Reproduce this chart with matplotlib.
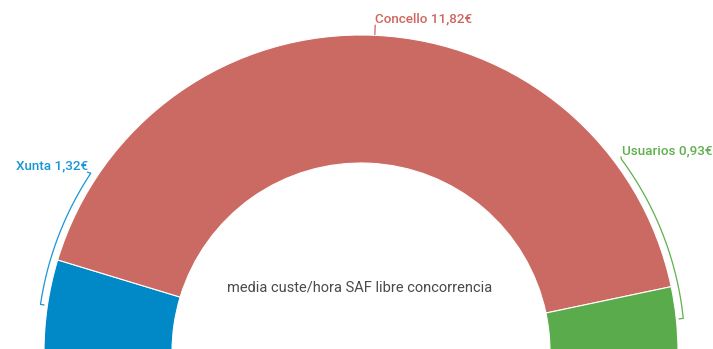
import numpy as np
import matplotlib
matplotlib.use("Agg")
import matplotlib.pyplot as plt

plt.rcParams['font.family'] = ['Roboto', 'DejaVu Sans']

# Data
categories = ["Xunta", "Concello", "Usuarios"]
values = [1.32, 11.82, 0.93]
value_labels = ["1,32€", "11,82€", "0,93€"]
colors = ["#0088c7", "#cb6963", "#5aab4b"]
text_colors = ["#1a96d4", "#d0665f", "#5fb04e"]
center_title = "media custe/hora SAF libre concorrencia"

W, H = 713, 349
fig = plt.figure(figsize=(W / 100, H / 100), dpi=100)
ax = fig.add_axes([0, 0, 1, 1])

cx, cy = 361, -3
R, ring = 317, 128
total = sum(values)

ax.pie(values + [total], colors=colors + ["none"], startangle=180, counterclock=False,
       center=(cx, cy), radius=R,
       wedgeprops=dict(width=ring, edgecolor="white", linewidth=0.8))
ax.patches[-1].set_visible(False)
ax.set_xlim(0, W)
ax.set_ylim(0, H)
ax.set_aspect('equal')
ax.axis('off')

# midpoint angles (degrees, counterclockwise from +x)
cum = np.cumsum([0] + values)
mids = [180 - 180 * (cum[i] + cum[i + 1]) / 2 / total for i in range(len(values))]

def pt(r, a):
    t = np.deg2rad(a)
    return cx + r * np.cos(t), cy + r * np.sin(t)

lw = 0.9
fs = 9.7
# Xunta: curved leader from midpoint up to label
a0, a1 = mids[0], 146.5
rb = R + 7
ts = np.linspace(a0, a1, 60)
xs, ys = zip(*[pt(rb, a) for a in ts])
x_t0, y_t0 = pt(R + 3, a0)
ax.plot([x_t0] + list(xs) + [87], [y_t0] + list(ys) + [H - 172], color=text_colors[0], lw=lw,
        solid_capstyle='butt')
ax.text(88, H - 166, f"{categories[0]} {value_labels[0]}", ha='right', va='center',
        fontsize=fs, color=text_colors[0], fontweight='medium')

# Concello: short vertical tick
x_c0, y_c0 = pt(R + 1, mids[1])
x_c1, y_c1 = pt(R + 10, mids[1])
ax.plot([x_c0, x_c1], [y_c0, y_c1], color=text_colors[1], lw=lw)
ax.text(x_c1, H - 19, f"{categories[1]} {value_labels[1]}", ha='left', va='center',
        fontsize=fs, color=text_colors[1], fontweight='medium')

# Usuarios: curved leader from midpoint up to label
a0, a1 = mids[2], 36.5
ts = np.linspace(a0, a1, 60)
xs, ys = zip(*[pt(rb, a) for a in ts])
x_t0, y_t0 = pt(R + 3, a0)
ax.plot([x_t0] + list(xs) + [621], [y_t0] + list(ys) + [H - 157], color=text_colors[2], lw=lw)
ax.text(712, H - 151, f"{categories[2]} {value_labels[2]}", ha='right', va='center',
        fontsize=fs, color=text_colors[2], fontweight='medium')

ax.text(360, H - 287, center_title, ha='center', va='center', fontsize=10.5, color="#4a4a4a")

fig.savefig("out.png", dpi=100)
